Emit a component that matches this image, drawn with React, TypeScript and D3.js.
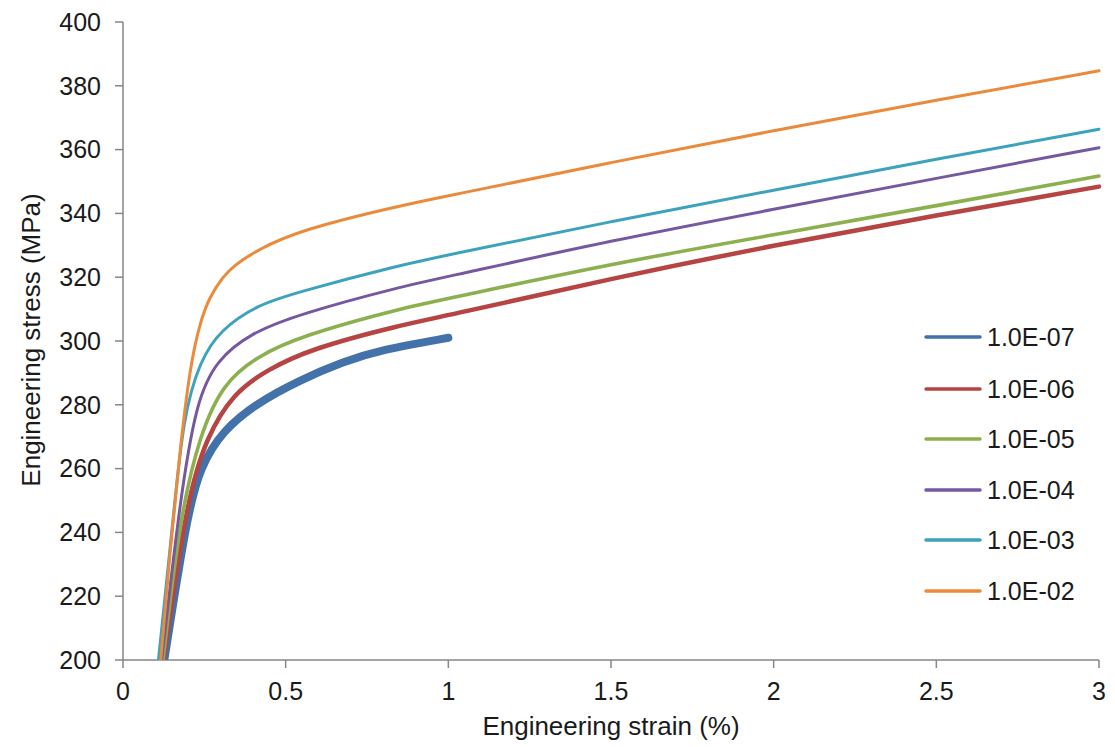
import React from "react";
import * as d3 from "d3";

const seriesNames = ["1.0E-07", "1.0E-06", "1.0E-05", "1.0E-04", "1.0E-03", "1.0E-02"];
const seriesColors = ["#4372AA", "#B64442", "#8DB04F", "#7558A0", "#3DA2BC", "#EA8A3A"];
const seriesWidths = [8, 4.5, 3.6, 3, 3, 3];

const strain_1e07 = [0.127, 0.196, 0.237, 0.308, 0.411, 0.544, 0.677, 0.79, 1.0];
const stress_1e07 = [200, 244.9, 260.6, 272.1, 280.5, 287.8, 293.5, 297.2, 301];

const strain_1e06 = [0.125, 0.196, 0.257, 0.339, 0.442, 0.575, 0.852, 1.0, 1.5, 2.0, 2.5, 3.0];
const stress_1e06 = [200, 250.2, 270, 283.6, 290.9, 297.5, 305, 308, 319.6, 330, 339.4, 348.4];

const strain_1e05 = [0.123, 0.175, 0.237, 0.308, 0.411, 0.544, 0.852, 1.0, 1.5, 2.0, 2.5, 3.0];
const stress_1e05 = [200, 244.9, 271, 286.7, 295.1, 301.5, 310.2, 313.3, 324.2, 333.3, 342.4, 351.7];

const strain_1e04 = [0.119, 0.175, 0.226, 0.288, 0.39, 0.544, 0.852, 1.0, 1.5, 2.0, 2.5, 3.0];
const stress_1e04 = [200, 250.2, 281.5, 294, 302.4, 308.5, 317, 320.2, 331.5, 341.3, 351, 360.6];

const strain_1e03 = [0.109, 0.155, 0.185, 0.237, 0.3, 0.411, 0.544, 0.852, 1.0, 1.5, 2.0, 2.5, 3.0];
const stress_1e03 = [200, 244.9, 276.3, 294, 303.5, 311.3, 315.5, 323.8, 327, 337.5, 347.3, 357, 366.4];

const strain_1e02 = [0.116, 0.145, 0.175, 0.206, 0.237, 0.267, 0.308, 0.338, 0.411, 0.544, 0.852, 1.0, 1.5, 2.0, 2.5, 3.0];
const stress_1e02 = [200, 234.5, 265.8, 292, 306, 314, 320.2, 323.4, 328.5, 334.8, 342.5, 345.5, 356, 366, 375.5, 384.7];

const strains = [strain_1e07, strain_1e06, strain_1e05, strain_1e04, strain_1e03, strain_1e02];
const stresses = [stress_1e07, stress_1e06, stress_1e05, stress_1e04, stress_1e03, stress_1e02];

const xTicks = [0, 0.5, 1, 1.5, 2, 2.5, 3];
const yTicks = [200, 220, 240, 260, 280, 300, 320, 340, 360, 380, 400];

export default function App() {
  const W = 1115, H = 747;
  const left = 123, right = 1099, top = 22, bottom = 660;
  const x = d3.scaleLinear().domain([0, 3]).range([left, right]);
  const y = d3.scaleLinear().domain([200, 400]).range([bottom, top]);
  const line = d3.line<[number, number]>()
    .x((d) => x(d[0]))
    .y((d) => y(d[1]))
    .curve(d3.curveBasis);
  const axisColor = "#868686";
  const font = "Liberation Sans, Arial, sans-serif";
  const legendYs = [337, 389, 439, 490, 540, 591];

  return (
    <svg width={W} height={H} style={{ position: "absolute", left: 0, top: 0, background: "#fff" }} fontFamily={font}>
      <defs>
        <clipPath id="plot">
          <rect x={left} y={top - 5} width={right - left + 5} height={bottom - top + 5} />
        </clipPath>
      </defs>
      <rect x={0} y={0} width={W} height={H} fill="#fff" />
      <line x1={left} x2={left} y1={top} y2={bottom} stroke={axisColor} strokeWidth={1.5} />
      <line x1={left} x2={right} y1={bottom} y2={bottom} stroke={axisColor} strokeWidth={1.5} />
      {yTicks.map((t) => (
        <g key={"y" + t}>
          <line x1={left - 8} x2={left} y1={y(t)} y2={y(t)} stroke={axisColor} strokeWidth={1.5} />
          <text x={101} y={y(t)} dy="0.35em" textAnchor="end" fontSize={25} fill="#1a1a1a">{t}</text>
        </g>
      ))}
      {xTicks.map((t) => (
        <g key={"x" + t}>
          <line x1={x(t)} x2={x(t)} y1={bottom} y2={bottom + 8} stroke={axisColor} strokeWidth={1.5} />
          <text x={x(t)} y={700} textAnchor="middle" fontSize={25} fill="#1a1a1a">{t}</text>
        </g>
      ))}
      <text x={(left + right) / 2} y={735} textAnchor="middle" fontSize={26} fill="#1a1a1a">Engineering strain (%)</text>
      <text transform={`translate(40,340) rotate(-90)`} textAnchor="middle" fontSize={26} fill="#1a1a1a">Engineering stress (MPa)</text>
      <g clipPath="url(#plot)">
        {seriesNames.map((name, i) => {
          const pts: [number, number][] = strains[i].map((s, j) => [s, stresses[i][j]]);
          return (
            <path key={name} d={line(pts) || ""} fill="none" stroke={seriesColors[i]} strokeWidth={seriesWidths[i]} strokeLinejoin="round" strokeLinecap="round" />
          );
        })}
      </g>
      {seriesNames.map((name, i) => (
        <g key={"lg" + name}>
          <line x1={926} x2={980} y1={legendYs[i]} y2={legendYs[i]} stroke={seriesColors[i]} strokeWidth={3.5} strokeLinecap="round" />
          <text x={987} y={legendYs[i]} dy="0.36em" fontSize={25} fill="#1a1a1a">{name}</text>
        </g>
      ))}
    </svg>
  );
}
